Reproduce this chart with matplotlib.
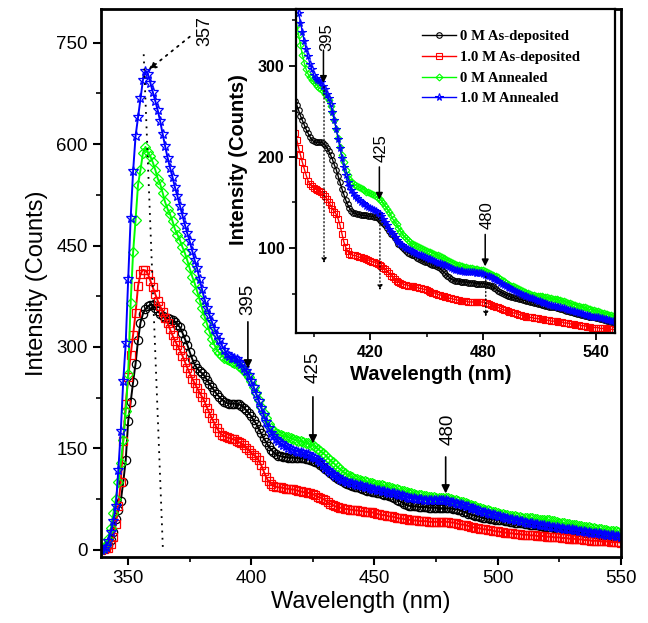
import numpy as np
import matplotlib
matplotlib.use('Agg')
import matplotlib.pyplot as plt
from matplotlib.ticker import MultipleLocator

plt.rcParams['font.family'] = ['Liberation Sans', 'DejaVu Sans']

# wavelength grid, 1 nm steps (339 .. 550 nm)
wavelength = np.arange(339, 551)

# 0 M As-deposited
as_dep_0M = [
    0, 1, 3, 7, 14, 26, 45, 58, 72, 100,
    132, 190, 218, 248, 275, 310, 336, 349, 356, 360,
    362, 362, 358, 353, 349, 345, 343, 342, 341, 339,
    337, 333, 329, 321, 312, 303, 292, 282, 274, 268,
    264, 261, 257, 251, 245, 240, 235, 230, 226, 222,
    219, 217, 216, 216, 216, 216, 215, 213, 210, 206,
    202, 197, 191, 186, 179, 172, 165, 159, 153, 148,
    144, 141, 139, 138, 137, 137, 136, 136, 136, 136,
    135, 135, 135, 134, 134, 133, 131, 130, 128, 125,
    122, 119, 116, 114, 111, 108, 105, 103, 101, 99,
    97, 95, 94, 93, 92, 91, 89, 88, 87, 86,
    85, 85, 84, 83, 82, 81, 80, 79, 78, 76,
    74, 72, 70, 68, 66, 65, 64, 64, 64, 63,
    63, 63, 63, 62, 62, 62, 62, 61, 61, 61,
    61, 61, 61, 60, 60, 59, 58, 56, 55, 53,
    52, 51, 50, 49, 48, 47, 46, 46, 45, 45,
    44, 44, 43, 43, 42, 42, 41, 41, 40, 40,
    39, 39, 38, 38, 37, 37, 36, 36, 35, 35,
    34, 34, 33, 33, 32, 31, 31, 30, 30, 29,
    29, 28, 28, 27, 27, 26, 26, 25, 25, 24,
    24, 23, 23, 22, 22, 21, 21, 20, 20, 19,
    19, 18,
]

# 1.0 M As-deposited
as_dep_1M = [
    0, 1, 2, 3, 8, 18, 38, 65, 100, 160,
    215, 255, 288, 318, 350, 390, 408, 414, 413, 408,
    398, 388, 378, 368, 360, 351, 343, 335, 326, 317,
    309, 302, 295, 287, 278, 269, 261, 253, 246, 239,
    232, 226, 219, 210, 202, 194, 187, 180, 174, 170,
    168, 166, 165, 164, 163, 161, 159, 157, 154, 151,
    147, 143, 140, 137, 132, 125, 116, 107, 101, 97,
    94, 93, 92, 92, 91, 90, 90, 89, 89, 88,
    87, 86, 85, 85, 84, 83, 82, 80, 78, 77,
    75, 73, 70, 68, 66, 64, 63, 62, 61, 60,
    60, 59, 59, 58, 58, 57, 57, 56, 56, 55,
    55, 54, 53, 52, 51, 51, 50, 49, 49, 48,
    47, 46, 46, 45, 45, 44, 44, 43, 43, 42,
    42, 42, 42, 41, 41, 41, 41, 41, 41, 41,
    41, 41, 40, 40, 39, 38, 37, 37, 36, 35,
    34, 33, 32, 32, 31, 30, 30, 29, 29, 28,
    27, 27, 26, 26, 25, 25, 24, 24, 23, 23,
    23, 22, 22, 22, 21, 21, 21, 20, 20, 20,
    20, 19, 19, 19, 18, 18, 18, 17, 17, 17,
    16, 16, 16, 15, 15, 15, 14, 14, 14, 13,
    13, 13, 13, 12, 12, 12, 12, 11, 11, 11,
    11, 10,
]

# 0 M Annealed
annealed_0M = [
    0, 2, 6, 16, 32, 54, 75, 100, 128, 162,
    205, 260, 365, 440, 488, 540, 562, 587, 596, 588,
    582, 573, 562, 549, 541, 528, 514, 504, 496, 486,
    474, 466, 458, 448, 439, 428, 416, 404, 394, 382,
    370, 357, 345, 334, 323, 312, 303, 296, 291, 287,
    284, 282, 280, 278, 276, 274, 272, 269, 266, 262,
    256, 249, 240, 231, 221, 211, 202, 194, 186, 180,
    176, 173, 171, 169, 168, 167, 166, 165, 164, 162,
    161, 160, 159, 158, 157, 155, 154, 152, 149, 146,
    143, 140, 136, 132, 129, 126, 122, 119, 116, 113,
    111, 109, 107, 105, 104, 103, 102, 101, 100, 99,
    98, 97, 96, 96, 95, 94, 93, 92, 91, 90,
    89, 88, 87, 86, 85, 84, 83, 82, 81, 80,
    80, 79, 79, 78, 78, 78, 77, 77, 77, 76,
    76, 76, 75, 74, 73, 72, 71, 70, 69, 68,
    66, 65, 64, 62, 61, 60, 59, 58, 57, 56,
    55, 54, 53, 52, 51, 51, 50, 49, 49, 48,
    48, 47, 47, 46, 46, 46, 45, 45, 44, 44,
    44, 43, 43, 42, 42, 41, 40, 40, 39, 38,
    38, 37, 37, 36, 35, 35, 34, 33, 33, 32,
    32, 31, 31, 30, 29, 29, 28, 28, 27, 27,
    26, 25,
]

# 1.0 M Annealed
annealed_1M = [
    0, 1, 4, 12, 26, 42, 65, 118, 176, 250,
    305, 400, 490, 560, 612, 640, 668, 695, 709, 704,
    691, 677, 664, 650, 634, 615, 597, 580, 565, 551,
    536, 523, 509, 495, 481, 468, 456, 442, 428, 416,
    400, 385, 370, 358, 347, 337, 327, 318, 310, 302,
    296, 290, 286, 284, 283, 282, 278, 274, 269, 264,
    258, 249, 240, 230, 220, 210, 199, 189, 180, 173,
    168, 164, 160, 157, 155, 153, 151, 149, 148, 146,
    145, 144, 143, 142, 141, 139, 137, 135, 132, 129,
    125, 121, 118, 115, 112, 109, 107, 105, 103, 101,
    100, 99, 98, 97, 96, 95, 94, 93, 92, 91,
    90, 89, 88, 88, 87, 86, 85, 84, 84, 83,
    82, 81, 80, 79, 78, 77, 76, 76, 75, 75,
    75, 74, 74, 74, 74, 74, 74, 73, 73, 73,
    73, 72, 71, 70, 69, 68, 67, 66, 65, 64,
    62, 61, 60, 58, 57, 56, 55, 54, 53, 52,
    51, 50, 49, 48, 47, 46, 45, 45, 44, 43,
    42, 42, 41, 40, 40, 39, 38, 38, 37, 37,
    36, 35, 35, 34, 34, 33, 32, 32, 31, 31,
    30, 30, 29, 29, 28, 27, 27, 26, 26, 25,
    25, 24, 24, 23, 23, 22, 22, 21, 21, 20,
    20, 19,
]

labels = ['0 M As-deposited', '1.0 M As-deposited', '0 M Annealed', '1.0 M Annealed']
colors = ['#000000', '#ff0000', '#00ff00', '#0000ff']
markers = ['o', 's', 'D', '*']
all_series = [as_dep_0M, as_dep_1M, annealed_0M, annealed_1M]
main_ms = [6, 5.5, 5, 7.5]
inset_ms = [4, 3.8, 3.5, 5.5]

fig = plt.figure(figsize=(6.48, 6.23), dpi=100)

# ---- main axes ----
ax = fig.add_axes([0.156, 0.106, 0.802, 0.8795])
for y, c, m, ms in zip(all_series, colors, markers, main_ms):
    ax.plot(wavelength, y, color=c, marker=m, mfc='none', mec=c,
            ms=ms, mew=0.9, lw=1.4)

ax.set_xlim(339, 550)
ax.set_ylim(-11, 800)
ax.set_xticks([350, 400, 450, 500, 550])
ax.set_yticks([0, 150, 300, 450, 600, 750])
ax.xaxis.set_minor_locator(MultipleLocator(25))
ax.yaxis.set_minor_locator(MultipleLocator(75))
ax.tick_params(which='major', direction='out', length=6, width=1.5, labelsize=13.5)
ax.tick_params(which='minor', direction='out', length=3.5, width=1.2)
for sp in ax.spines.values():
    sp.set_linewidth(2)
ax.set_xlabel('Wavelength (nm)', fontsize=17, labelpad=3)
ax.set_ylabel('Intensity (Counts)', fontsize=17, labelpad=6)

# peak marker at 357 nm
ax.plot([356.3, 364.1], [733, 0], color='k', ls=(0, (1, 3)), lw=1.3)
ax.annotate('', xy=(358.3, 710), xytext=(375, 759),
            arrowprops=dict(arrowstyle='-|>', color='k', lw=1.3, ls=(0, (1, 3)),
                            mutation_scale=11, shrinkA=0, shrinkB=0))
ax.text(381.1, 767, '357', rotation=90, fontsize=13, ha='center', va='center')

# shoulders
main_marks = [(398.6, 337, 268, '395', 398.5, 370),
              (425.0, 226, 157, '425', 424.9, 270),
              (478.9, 137, 83, '480', 480.1, 178)]
for xa, y0, y1, txt, xt, yt in main_marks:
    ax.annotate('', xy=(xa, y1), xytext=(xa, y0),
                arrowprops=dict(arrowstyle='-|>', color='k', lw=1.2,
                                mutation_scale=12, shrinkA=0, shrinkB=0))
    ax.text(xt, yt, txt, rotation=90, fontsize=13.5, ha='center', va='center')

# ---- inset ----
axins = fig.add_axes([0.457, 0.4655, 0.492, 0.52])
lines = []
for y, c, m, lab, ms in zip(all_series, colors, markers, labels, inset_ms):
    ln, = axins.plot(wavelength, y, color=c, marker=m, mfc='none', mec=c,
                     ms=ms, mew=0.8, lw=1.0, label=lab)
    lines.append(ln)

axins.set_xlim(380.7, 550)
axins.set_ylim(7, 362)
axins.set_xticks([420, 480, 540])
axins.set_yticks([100, 200, 300])
axins.xaxis.set_minor_locator(MultipleLocator(30))
axins.yaxis.set_minor_locator(MultipleLocator(50))
axins.tick_params(which='major', direction='out', length=5, width=1.3, labelsize=11.5)
axins.tick_params(which='minor', direction='out', length=3, width=1.1)
for lab in axins.get_xticklabels() + axins.get_yticklabels():
    lab.set_fontweight('bold')
for sp in axins.spines.values():
    sp.set_linewidth(1.6)
axins.set_xlabel('Wavelength (nm)', fontsize=14.5, fontweight='bold')
axins.set_ylabel('Intensity (Counts)', fontsize=14.5, fontweight='bold')
axins.xaxis.set_label_coords(0.423, -0.098)
axins.yaxis.set_label_coords(-0.15, 0.534)

inset_marks = [(395.2, 317, 281, 277, 83.6, '395', 396.9, 331),
               (424.9, 189, 153, 138, 54, '425', 425.8, 210),
               (481.1, 115, 80, 69, 25, '480', 482.0, 136)]
for xa, y0, y1, d0, d1, txt, xt, yt in inset_marks:
    axins.annotate('', xy=(xa, y1), xytext=(xa, y0),
                   arrowprops=dict(arrowstyle='-|>', color='k', lw=1.1,
                                   mutation_scale=10, shrinkA=0, shrinkB=0))
    axins.annotate('', xy=(xa + 0.3, d1), xytext=(xa + 0.3, d0),
                   arrowprops=dict(arrowstyle='-|>', color='k', lw=0.9, ls=(0, (1, 2)),
                                   mutation_scale=7, shrinkA=0, shrinkB=0))
    axins.text(xt, yt, txt, rotation=90, fontsize=12, ha='center', va='center')

axins.legend(handles=lines, loc='upper left', bbox_to_anchor=(0.395, 0.935),
             frameon=False, borderaxespad=0, borderpad=0, handlelength=2.3,
             handletextpad=0.3, labelspacing=0.5,
             prop={'family': ['Liberation Serif', 'DejaVu Serif'],
                   'weight': 'bold', 'size': 10.6})

fig.savefig('out.png', dpi=100)
